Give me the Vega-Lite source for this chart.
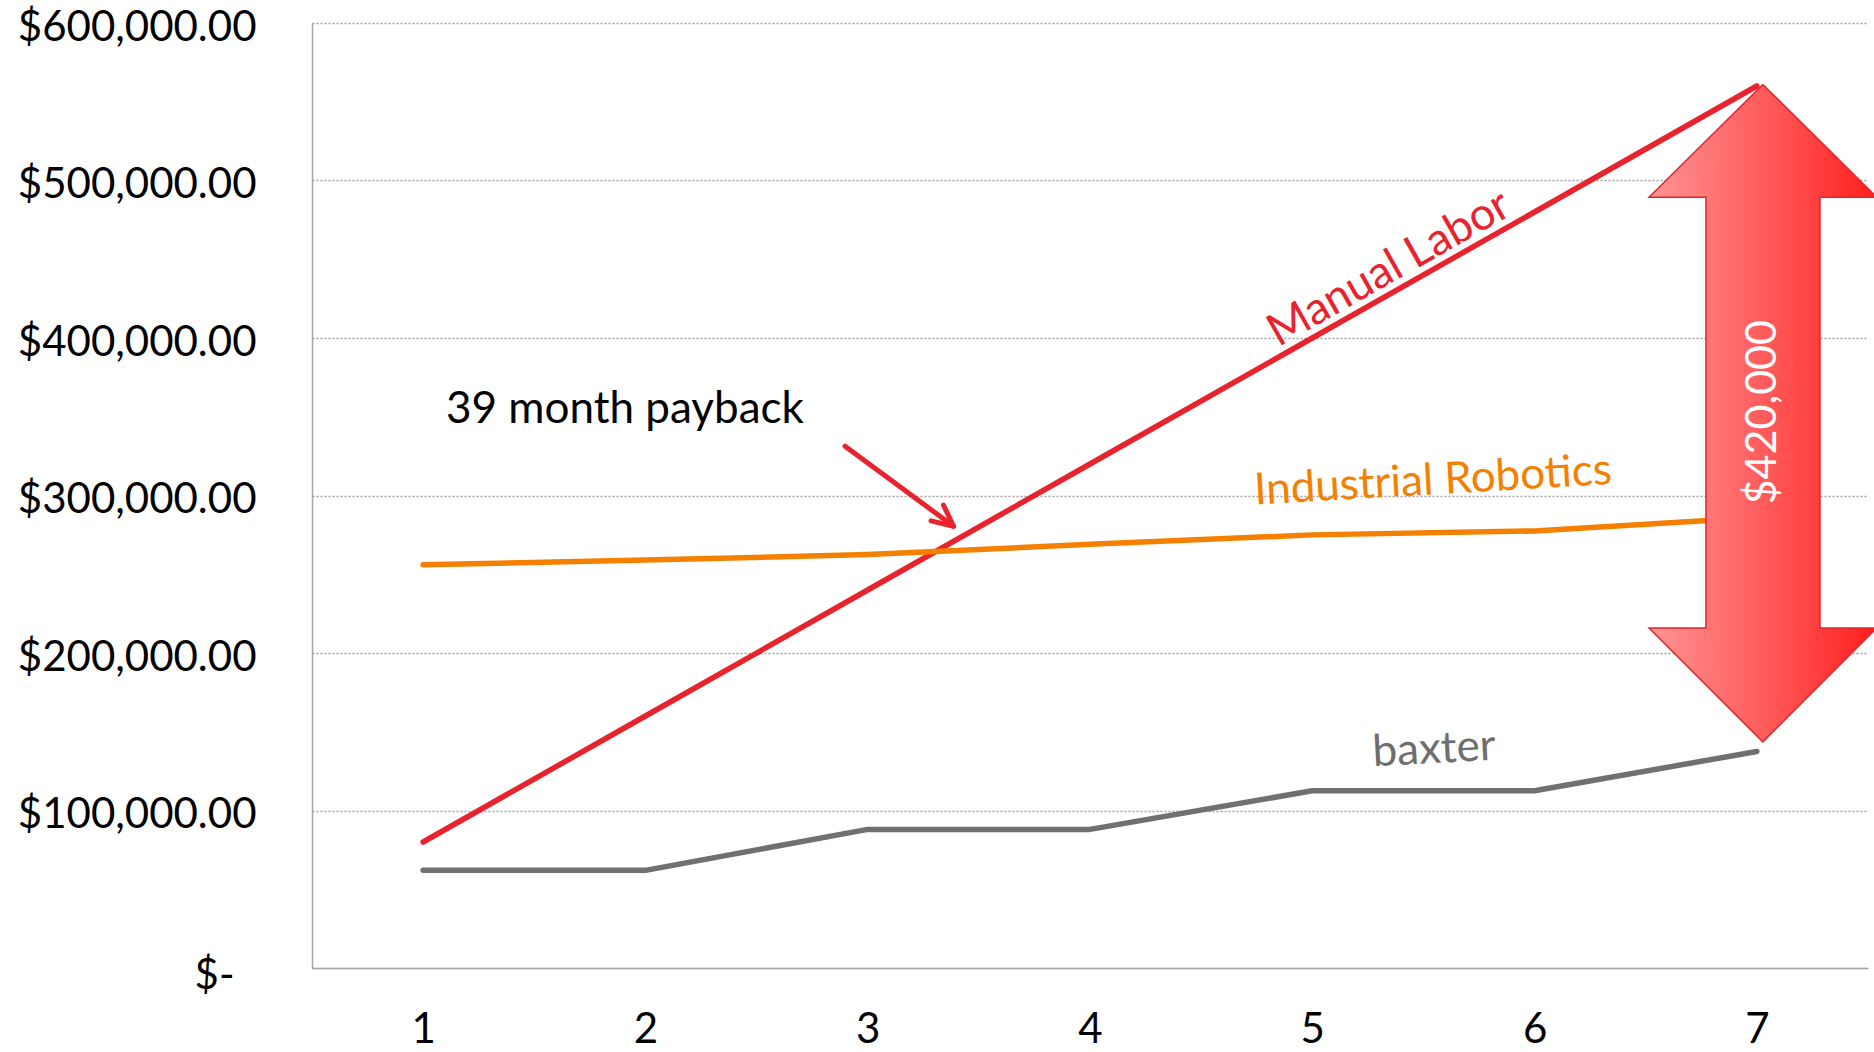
{
  "$schema": "https://vega.github.io/schema/vega-lite/v6.json",
  "width": 1556,
  "height": 945,
  "autosize": {"type": "none"},
  "padding": {"left": 312, "top": 23, "right": 6, "bottom": 84},
  "background": "white",
  "config": {"view": {"stroke": null}, "font": "Lato"},
  "datasets": {
    "series": [
      {"x": 1, "v": 80000, "s": "Manual Labor"},
      {"x": 2, "v": 160000, "s": "Manual Labor"},
      {"x": 3, "v": 240000, "s": "Manual Labor"},
      {"x": 4, "v": 320000, "s": "Manual Labor"},
      {"x": 5, "v": 400000, "s": "Manual Labor"},
      {"x": 6, "v": 480000, "s": "Manual Labor"},
      {"x": 7, "v": 560000, "s": "Manual Labor"},
      {"x": 1, "v": 256000, "s": "Industrial Robotics"},
      {"x": 2, "v": 259000, "s": "Industrial Robotics"},
      {"x": 3, "v": 262500, "s": "Industrial Robotics"},
      {"x": 4, "v": 269000, "s": "Industrial Robotics"},
      {"x": 5, "v": 275000, "s": "Industrial Robotics"},
      {"x": 6, "v": 277500, "s": "Industrial Robotics"},
      {"x": 7, "v": 286000, "s": "Industrial Robotics"},
      {"x": 1, "v": 62000, "s": "baxter"},
      {"x": 2, "v": 62000, "s": "baxter"},
      {"x": 3, "v": 88000, "s": "baxter"},
      {"x": 4, "v": 88000, "s": "baxter"},
      {"x": 5, "v": 112500, "s": "baxter"},
      {"x": 6, "v": 112500, "s": "baxter"},
      {"x": 7, "v": 137500, "s": "baxter"}
    ],
    "arrow": [
      {"i": 0, "x": 7.027, "v": 561000},
      {"i": 1, "x": 7.539, "v": 489400},
      {"i": 2, "x": 7.284, "v": 489400},
      {"i": 3, "x": 7.284, "v": 215800},
      {"i": 4, "x": 7.539, "v": 215800},
      {"i": 5, "x": 7.027, "v": 143600},
      {"i": 6, "x": 6.515, "v": 215800},
      {"i": 7, "x": 6.771, "v": 215800},
      {"i": 8, "x": 6.771, "v": 489400},
      {"i": 9, "x": 6.515, "v": 489400},
      {"i": 10, "x": 7.027, "v": 561000}
    ],
    "pointer": [
      {"g": "shaft", "i": 0, "x": 2.898, "v": 331300},
      {"g": "shaft", "i": 1, "x": 3.386, "v": 280500},
      {"g": "head", "i": 0, "x": 3.341, "v": 293900},
      {"g": "head", "i": 1, "x": 3.386, "v": 280500},
      {"g": "head", "i": 2, "x": 3.285, "v": 283900}
    ],
    "diff": [{"x": 7.027, "v": 352900, "t": "$420,000"}],
    "manual": [{"x": 5.345, "v": 444300, "t": "Manual Labor"}],
    "robot": [{"x": 5.543, "v": 309000, "t": "Industrial Robotics"}],
    "baxter": [{"x": 5.548, "v": 138400, "t": "baxter"}],
    "payback": [{"x": 1.103, "v": 354200, "t": "39 month payback"}]
  },
  "encoding": {
    "x": {
      "field": "x",
      "type": "quantitative",
      "scale": {"domain": [0.5, 7.5], "nice": false, "zero": false},
      "axis": {
        "title": null,
        "values": [1, 2, 3, 4, 5, 6, 7],
        "format": "d",
        "grid": false,
        "ticks": false,
        "domainColor": "#A6A6A6",
        "domainWidth": 1.5,
        "labelFont": "Lato",
        "labelFontSize": 42,
        "labelColor": "#000000",
        "labelPadding": 41,
        "labelLimit": 0
      }
    },
    "y": {
      "field": "v",
      "type": "quantitative",
      "scale": {"domain": [0, 600000], "nice": false, "zero": true},
      "axis": {
        "title": null,
        "values": [0, 100000, 200000, 300000, 400000, 500000, 600000],
        "labelExpr": "datum.value === 0 ? '$-' : format(datum.value, '$,.2f')",
        "grid": true,
        "gridColor": "#A0A0A0",
        "gridDash": [2, 2],
        "gridWidth": 1.5,
        "ticks": false,
        "domainColor": "#A6A6A6",
        "domainWidth": 1.5,
        "labelFont": "Lato",
        "labelFontSize": 42,
        "labelColor": "#000000",
        "labelPadding": {"condition": {"test": "datum.value === 0", "value": 78}, "value": 56},
        "labelOffset": {"condition": {"test": "datum.value === 0", "value": 7}, "value": 4},
        "labelLimit": 0,
        "labelOverlap": false,
        "labelFlush": false
      }
    }
  },
  "layer": [
    {
      "data": {"name": "series"},
      "mark": {"type": "line", "strokeWidth": 5.5, "strokeCap": "round", "strokeJoin": "round"},
      "encoding": {
        "color": {
          "field": "s",
          "type": "nominal",
          "scale": {"domain": ["Manual Labor", "Industrial Robotics", "baxter"], "range": ["#E8232D", "#F58000", "#707070"]},
          "legend": null
        }
      }
    },
    {
      "data": {"name": "pointer"},
      "mark": {"type": "line", "color": "#E8232D", "strokeWidth": 5, "strokeCap": "round", "strokeJoin": "round"},
      "encoding": {
        "detail": {"field": "g", "type": "nominal"},
        "order": {"field": "i", "type": "quantitative"}
      }
    },
    {
      "data": {"name": "arrow"},
      "mark": {
        "type": "line",
        "stroke": "#E0262B",
        "strokeWidth": 1.5,
        "strokeJoin": "miter",
        "fill": {
          "gradient": "linear",
          "x1": 0, "y1": 0, "x2": 1, "y2": 0,
          "stops": [
            {"offset": 0, "color": "#FF9494"},
            {"offset": 0.5, "color": "#FF5C5C"},
            {"offset": 1, "color": "#FF1E1E"}
          ]
        }
      },
      "encoding": {
        "order": {"field": "i", "type": "quantitative"}
      }
    },
    {
      "data": {"name": "diff"},
      "mark": {"type": "text", "angle": 270, "color": "#FFFFFF", "fontSize": 43, "font": "Lato", "align": "center", "baseline": "middle"},
      "encoding": {"text": {"field": "t", "type": "nominal"}}
    },
    {
      "data": {"name": "manual"},
      "mark": {"type": "text", "angle": 330.4, "color": "#E8232D", "fontSize": 45, "font": "Lato", "align": "center", "baseline": "middle"},
      "encoding": {"text": {"field": "t", "type": "nominal"}}
    },
    {
      "data": {"name": "robot"},
      "mark": {"type": "text", "angle": 356.7, "color": "#F58000", "fontSize": 44, "font": "Lato", "align": "center", "baseline": "middle"},
      "encoding": {"text": {"field": "t", "type": "nominal"}}
    },
    {
      "data": {"name": "baxter"},
      "mark": {"type": "text", "angle": 357, "color": "#6E6E6E", "fontSize": 44, "font": "Lato", "align": "center", "baseline": "middle"},
      "encoding": {"text": {"field": "t", "type": "nominal"}}
    },
    {
      "data": {"name": "payback"},
      "mark": {"type": "text", "color": "#000000", "fontSize": 44, "font": "Lato", "align": "left", "baseline": "middle"},
      "encoding": {"text": {"field": "t", "type": "nominal"}}
    }
  ]
}
